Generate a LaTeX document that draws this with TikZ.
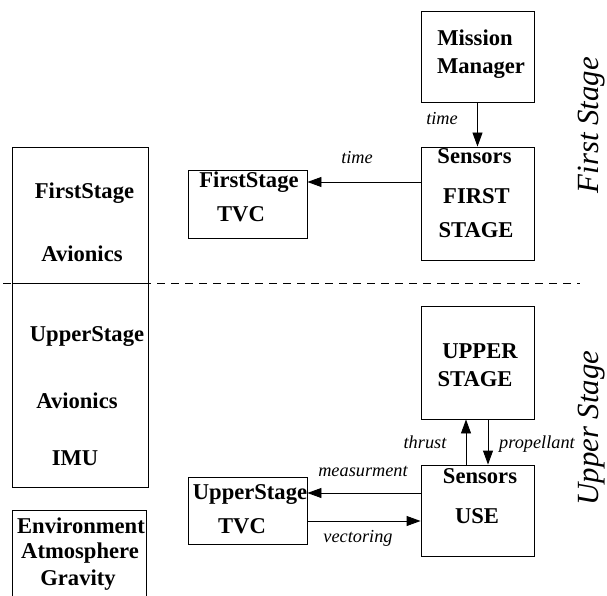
\documentclass[tikz,border=0pt]{standalone}
\usepackage{fontspec}
\setmainfont{Liberation Serif}
\usetikzlibrary{arrows.meta}
\tikzset{
  box/.style={draw=black, line width=0.9pt, inner sep=0pt, rectangle},
  bt/.style={anchor=base, inner sep=0pt, font=\bfseries\fontsize{22.6}{27}\selectfont},
  lt/.style={anchor=base, inner sep=0pt, font=\itshape\fontsize{18.3}{22}\selectfont},
  st/.style={rotate=90, inner sep=0pt, font=\itshape\fontsize{30.8}{36}\selectfont},
  arr/.style={line width=0.9pt, -{Triangle[length=14pt,width=10pt]}},
  sep/.style={line width=0.9pt, dash pattern=on 8pt off 6pt}
}
\begin{document}
\begin{tikzpicture}[x=1pt,y=-1pt]
\clip (0,0) rectangle (607,596);
\fill[white] (0,0) rectangle (607,596);
% separator
\coordinate (d1) at (3,283);
\coordinate (d2) at (580,283);
\draw[sep] (d1) -- (d2);
% boxes
\node[box, minimum width=113pt, minimum height=91pt] (mm) at (477.5,56.5) {};
\node[box, minimum width=113pt, minimum height=113pt] (sfs) at (477.5,203.5) {};
\node[box, minimum width=119pt, minimum height=68pt] (tvc1) at (247.5,204) {};
\node[box, minimum width=136pt, minimum height=136pt] (av1) at (80,215) {};
\node[box, minimum width=136pt, minimum height=204pt] (av2) at (80,385) {};
\node[box, minimum width=134pt, minimum height=110pt] (env) at (79,565) {};
\node[box, minimum width=113pt, minimum height=113pt] (ups) at (477.5,362.5) {};
\node[box, minimum width=113pt, minimum height=91pt] (suse) at (477.5,510.5) {};
\node[box, minimum width=119pt, minimum height=67pt] (tvc2) at (247.5,510.5) {};
% box texts
\node[bt] (a1) at (84.5,198) {FirstStage};
\node[bt] (a2) at (82,261) {Avionics};
\node[bt] (b1) at (87,341) {UpperStage};
\node[bt] (b2) at (77,408) {Avionics};
\node[bt] (b3) at (75,465) {IMU};
\node[bt] (e1) at (81,533) {Environment};
\node[bt] (e2) at (80,558) {Atmosphere};
\node[bt] (e3) at (78,585) {Gravity};
\node[bt] (m1) at (475,46) {Mission};
\node[bt] (m2) at (481,74) {Manager};
\node[bt] (s1) at (474.5,164) {Sensors};
\node[bt] (s2) at (476.5,204) {FIRST};
\node[bt] (s3) at (476,237) {STAGE};
\node[bt] (f1) at (249,187) {FirstStage};
\node[bt] (f2) at (241,221) {TVC};
\node[bt] (u1) at (480,358) {UPPER};
\node[bt] (u2) at (475,386) {STAGE};
\node[bt] (r1) at (480,483) {Sensors};
\node[bt] (r2) at (477,523) {USE};
\node[bt] (g1) at (250,499) {UpperStage};
\node[bt] (g2) at (242,533) {TVC};
% connectors
\draw[arr] (mm.south) -- (sfs.north);
\draw[arr] ([yshift=21.5pt]sfs.west) -- ([yshift=21.5pt]sfs.west -| tvc1.east);
\draw[arr] ([xshift=-11.5pt]suse.north) -- ([xshift=-11.5pt]suse.north |- ups.south);
\draw[arr] ([xshift=10.5pt]ups.south) -- ([xshift=10.5pt]ups.south |- suse.north);
\draw[arr] ([yshift=17.5pt]suse.west) -- ([yshift=17.5pt]suse.west -| tvc2.east);
\draw[arr] ([yshift=-10.5pt]tvc2.east) -- ([yshift=-10.5pt]tvc2.east -| suse.west);
% labels
\node[lt] (l1) at (442,125) {time};
\node[lt] (l2) at (357,164) {time};
\node[lt] (l3) at (363,476) {measurment};
\node[lt] (l4) at (358,542) {vectoring};
\node[lt] (l5) at (425,448) {thrust};
\node[lt] (l6) at (537,448) {propellant};
% side titles
\node[st] (fs) at (592,125) {First Stage};
\node[st] (us) at (592,428) {Upper Stage};
\end{tikzpicture}
\end{document}
